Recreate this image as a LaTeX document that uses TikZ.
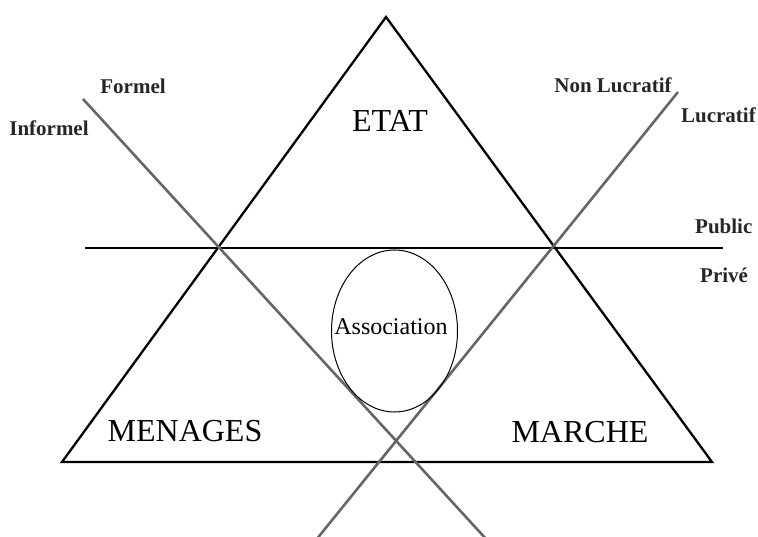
\documentclass[tikz,border=0pt]{standalone}
\usepackage{fontspec}
\setmainfont{Liberation Serif}
\usetikzlibrary{shapes.geometric}
\begin{document}
\begin{tikzpicture}[x=1pt,y=-1pt,
  blackline/.style={line width=2.3pt,black},
  grayline/.style={line width=2.6pt,color=black!60},
  biglabel/.style={font=\fontsize{32}{32}\selectfont,inner sep=0pt},
  smalllabel/.style={font=\fontsize{21}{21}\selectfont\bfseries,inner sep=0pt,text=black!85}]
\useasboundingbox (0,0) rectangle (758,537);
\clip (0,0) rectangle (758,537);
% triangle
\coordinate (apex) at (386,17);
\coordinate (bl) at (62,462);
\coordinate (br) at (712,462);
\draw[blackline,line join=miter] (apex) -- (br) -- (bl) -- cycle;
% public / prive line
\coordinate (hl) at (85,248);
\coordinate (hr) at (723,248);
\draw[blackline] (hl) -- (hr);
% gray lines
\coordinate (f1) at (83,99);
\coordinate (f2) at (487,540);
\coordinate (l1) at (678,92);
\coordinate (l2) at (316,540);
\draw[grayline] (f1) -- (f2);
\draw[grayline] (l1) -- (l2);
% association
\node[draw,ellipse,line width=1pt,minimum width=126pt,minimum height=162pt,inner sep=0pt] (assoc) at (394.5,331) {};
\node[font=\fontsize{24}{24}\selectfont,inner sep=0pt] (assoctext) at (391,327) {Association};
% big labels
\node[biglabel] (etat) at (390,121) {ETAT};
\node[biglabel] (menages) at (185,431) {MENAGES};
\node[biglabel] (marche) at (580,432) {MARCHE};
% small labels
\node[smalllabel] (formel) at (133,86) {Formel};
\node[smalllabel] (informel) at (49,128) {Informel};
\node[smalllabel] (nonluc) at (613,85) {Non Lucratif};
\node[smalllabel,anchor=east] (luc) at (756,115) {Lucratif};
\node[smalllabel,anchor=west] (public) at (695,226) {Public};
\node[smalllabel,anchor=west] (prive) at (700,275) {Privé};
\end{tikzpicture}
\end{document}
